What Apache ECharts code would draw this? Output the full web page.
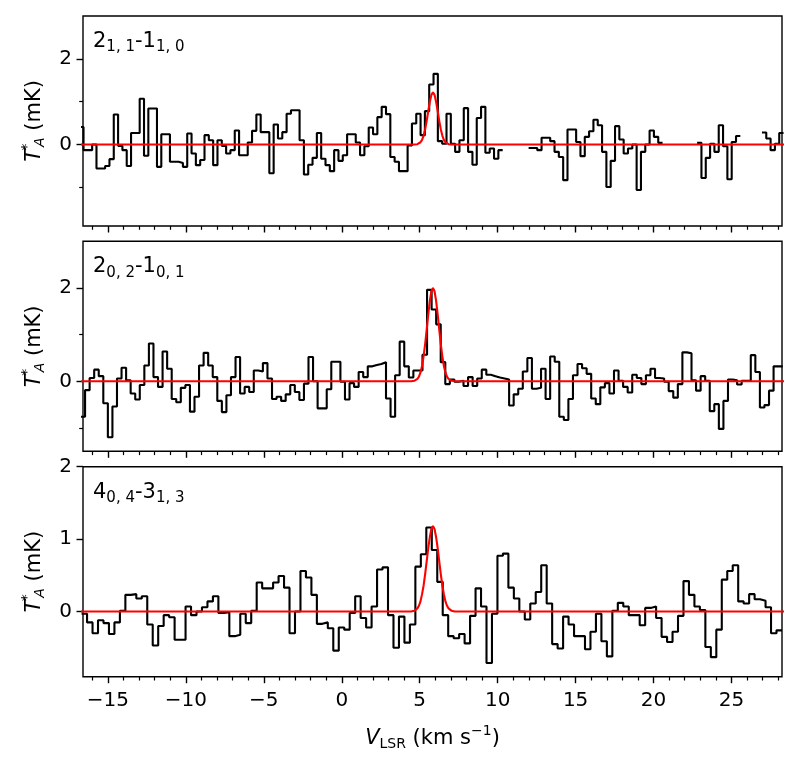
<!DOCTYPE html>
<html>
<head>
<meta charset="utf-8">
<script src="https://cdn.jsdelivr.net/npm/echarts@6/dist/echarts.min.js"></script>
<style>
html,body{margin:0;padding:0;background:#fff;}
#c{width:800px;height:763px;}
</style>
</head>
<body>
<div id="c"></div>
<script>
// ---------------- data ----------------
const xMajorTicks = [-15, -10, -5, 0, 5, 10, 15, 20, 25];
const xMinorTicks = [-16, -14, -13, -12, -11, -9, -8, -7, -6, -4, -3, -2, -1, 1, 2, 3, 4, 6, 7, 8, 9, 11, 12, 13, 14, 16, 17, 18, 19, 21, 22, 23, 24, 26, 27, 28];
const y1MajorTicks = [0, 2];
const y1MinorTicks = [-1, 1];
const y2MajorTicks = [0, 2];
const y2MinorTicks = [-1, 1];
const y3MajorTicks = [0, 1, 2];

// panel 1: 2(1,1)-1(1,0)  channel grid: first channel edge, channel width (km/s)
const spec1Start = -16.844;
const spec1Width = 0.2772;
const spec1T = [
  0.41, -0.13, -0.13, 0.0, -0.56, -0.56, -0.50, -0.34,
  0.70, -0.03, -0.13, -0.50, 0.27, 0.27, 1.07, -0.26, 0.84, 0.84,
  -0.52, 0.24, 0.24, -0.40, -0.40, -0.43, -0.52, 0.26, -0.21, -0.48,
  -0.36, 0.22, 0.10, -0.48, 0.10, -0.03, -0.21, -0.13, 0.33, -0.25,
  -0.25, 0.05, 0.32, 0.70, 0.29, 0.29, -0.67, 0.47, 0.14, 0.29,
  0.72, 0.80, 0.80, 0.10, -0.70, -0.47, -0.31, 0.27, -0.33, -0.48,
  -0.62, -0.13, -0.38, -0.25, 0.24, 0.24, 0.05, -0.25, -0.04, 0.40,
  0.24, 0.64, 0.88, 0.71, -0.29, -0.40, -0.62, -0.62, -0.02, 0.49,
  0.72, 0.22, 0.78, 1.40, 1.65, 0.08, 0.02, 0.72, 0.02, -0.17,
  0.10, 0.85, -0.17, -0.47, 0.62, 0.88, -0.19, -0.09, -0.33, -0.13,
  null, null, null, null, null, null, -0.08, -0.08, -0.13, 0.16,
  0.16, 0.08, -0.17, -0.29, -0.83, 0.35, 0.35, 0.06, -0.27, 0.18,
  0.31, 0.58, 0.45, -0.17, -0.99, -0.38, 0.43, 0.12, -0.21, -0.09,
  0.0, -1.06, -0.17, 0.0, 0.33, 0.18, 0.04, null, null, null,
  null, null, null, null, null, 0.04, -0.78, -0.31, 0.02, -0.17,
  0.45, -0.04, -0.81, 0.06, 0.20, null, null, null, null, null,
  0.28, 0.14, -0.13, 0.02, 0.27
];

// panel 2: 2(0,2)-1(0,1)
const spec2Start = -16.76;
const spec2Width = 0.2925;
const spec2T = [
  -0.76, -0.19, 0.07, 0.25, 0.11, -0.47, -1.20, -0.54, 0.06, 0.29,
  0.02, -0.26, -0.39, -0.08, 0.34, 0.81, 0.09, -0.12, 0.64, 0.27,
  -0.38, -0.45, -0.14, -0.08, -0.65, -0.33, 0.34, 0.61, 0.34, 0.09,
  -0.42, -0.66, -0.30, 0.09, 0.52, -0.26, -0.12, -0.23, 0.23, 0.21,
  0.39, 0.06, -0.38, -0.33, -0.42, -0.28, -0.08, -0.23, -0.40, -0.05,
  0.52, 0.0, -0.58, -0.58, -0.17, 0.42, 0.42, -0.01, -0.39, -0.04,
  -0.12, 0.20, 0.09, 0.32, 0.35, 0.37, 0.41, -0.37, -0.76, 0.13,
  0.85, 0.32, 0.08, 0.23, 0.23, 0.57, 1.96, 1.54, 1.22, 0.41,
  -0.06, 0.04, -0.01, 0.01, -0.10, 0.09, -0.10, 0.06, 0.25, 0.14,
  0.11, 0.08, 0.06, 0.04, -0.52, -0.28, -0.16, 0.21, 0.50, -0.16,
  -0.14, 0.27, -0.38, 0.53, 0.42, -0.76, -0.83, -0.38, 0.13, 0.37,
  0.28, 0.16, -0.37, -0.49, -0.13, -0.04, -0.26, 0.23, 0.01, -0.12,
  -0.24, 0.14, 0.07, -0.06, 0.13, 0.27, 0.07, 0.06, -0.01, -0.21,
  -0.35, -0.06, 0.62, 0.60, 0.02, -0.20, 0.11, 0.01, -0.64, -0.49,
  -1.02, -0.42, 0.04, 0.02, -0.07, 0.01, 0.01, 0.56, 0.20, -0.56,
  -0.51, -0.20, 0.32, 0.32
];

// panel 3: 4(0,4)-3(1,3)
const spec3Start = -16.69;
const spec3Width = 0.351;
const spec3T = [
  -0.03, -0.15, -0.30, -0.12, -0.16, -0.31, -0.15, 0.01, 0.23, 0.24,
  0.18, 0.21, -0.18, -0.47, -0.20, -0.05, -0.08, -0.39, -0.39, 0.07,
  -0.05, 0.0, 0.06, 0.14, 0.21, -0.02, -0.01, -0.34, -0.32, -0.03,
  -0.16, 0.01, 0.40, 0.32, 0.32, 0.40, 0.49, 0.33, -0.30, 0.0,
  0.56, 0.47, 0.23, -0.17, -0.15, -0.23, -0.54, -0.22, -0.25, -0.02,
  0.21, -0.09, -0.22, 0.07, 0.58, 0.61, -0.05, -0.50, -0.07, -0.43,
  -0.18, 0.62, 0.79, 1.16, 0.85, 0.41, -0.05, -0.34, -0.37, -0.31,
  -0.44, -0.06, 0.32, 0.07, -0.71, -0.03, 0.77, 0.80, 0.33, 0.18,
  0.0, -0.11, 0.11, 0.27, 0.64, 0.11, -0.45, -0.51, -0.07, -0.18,
  -0.34, -0.34, -0.52, -0.28, -0.03, -0.41, -0.62, 0.01, 0.12, 0.07,
  -0.05, -0.05, -0.19, 0.05, 0.07, -0.09, -0.35, -0.42, -0.28, -0.06,
  0.42, 0.23, 0.07, 0.02, -0.49, -0.63, -0.25, 0.44, 0.56, 0.64,
  0.14, 0.11, 0.24, 0.17, 0.15, 0.06, -0.30, -0.26
];

// red fitted profiles (velocity, T)
const fitV = [-16.9, 4.45, 4.65, 4.75, 4.85, 4.95, 5.05, 5.15, 5.25, 5.35, 5.45, 5.55, 5.65, 5.75, 5.85, 5.95, 6.05, 6.15, 6.25, 6.35, 6.45, 6.55, 6.65, 6.75, 6.85, 6.95, 7.05, 7.25, 28.4];
const fit1T = [0, 0, 0.001, 0.003, 0.009, 0.023, 0.054, 0.11, 0.21, 0.36, 0.56, 0.79, 1.00, 1.16, 1.22, 1.16, 1.00, 0.79, 0.56, 0.36, 0.21, 0.11, 0.054, 0.023, 0.009, 0.003, 0.001, 0, 0];
const fit2T = [0, 0, 0.01, 0.024, 0.05, 0.10, 0.19, 0.33, 0.54, 0.80, 1.12, 1.44, 1.73, 1.93, 2.0, 1.93, 1.73, 1.44, 1.12, 0.80, 0.54, 0.33, 0.19, 0.10, 0.05, 0.024, 0.01, 0, 0];
const fit3T = [0, 0, 0.01, 0.022, 0.044, 0.08, 0.14, 0.24, 0.36, 0.52, 0.70, 0.88, 1.03, 1.14, 1.18, 1.14, 1.03, 0.88, 0.70, 0.52, 0.36, 0.24, 0.14, 0.08, 0.044, 0.022, 0.01, 0, 0];

// transition labels: [main, sub, main, sub]
const label1 = ['2', '1, 1', '-1', '1, 0'];
const label2 = ['2', '0, 2', '-1', '0, 1'];
const label3 = ['4', '0, 4', '-3', '1, 3'];

// ---------------- helpers ----------------
function stepData(v0, w, vals) {
  const pts = [];
  for (let i = 0; i < vals.length; i++) {
    const y = vals[i];
    if (y === null) { pts.push([v0 + i * w, '-']); continue; }
    pts.push([v0 + i * w, y]);
    pts.push([v0 + (i + 1) * w, y]);
  }
  return pts;
}
function zip(a, b) { return a.map((v, i) => [v, b[i]]); }
function minus(v) { return (v < 0 ? '\u2212' : '') + Math.abs(v); }

const FONT = 'DejaVu Sans';
const X_MIN = -16.6, X_MAX = 28.24;
const GRID_LEFT = 83, GRID_W = 699, GRID_H = 210;
const tops = [16, 241.3, 466.7];
const yRanges = [[-1.9, 3], [-1.5, 3], [-0.9, 2]];
const yMajors = [y1MajorTicks, y2MajorTicks, y3MajorTicks];
const yMinors = [y1MinorTicks, y2MinorTicks, null];

const grids = [], xAxes = [], yAxes = [], series = [];
const specs = [[spec1Start, spec1Width, spec1T, fit1T], [spec2Start, spec2Width, spec2T, fit2T], [spec3Start, spec3Width, spec3T, fit3T]];

const yNameRich = {
  t: {fontFamily: FONT, fontStyle: 'italic', fontSize: 21, lineHeight: 24, color: '#000'},
  sup: {fontFamily: FONT, fontSize: 14, lineHeight: 14, padding: [0, 0, 14, 2], width: 0, color: '#000'},
  sub: {fontFamily: FONT, fontStyle: 'italic', fontSize: 14, lineHeight: 14, padding: [12, 0, 0, 0], color: '#000'},
  n: {fontFamily: FONT, fontSize: 21, lineHeight: 24, color: '#000'}
};

for (let p = 0; p < 3; p++) {
  grids.push({left: GRID_LEFT, top: tops[p], width: GRID_W, height: GRID_H, show: true,
    borderColor: '#000', borderWidth: 1.4, backgroundColor: 'rgba(0,0,0,0)'});
  const isBottom = p === 2;
  const xMajor = {
    gridIndex: p, type: 'value', min: X_MIN, max: X_MAX, position: 'bottom',
    axisLine: {show: false, onZero: false}, splitLine: {show: false},
    axisTick: {show: true, customValues: xMajorTicks, length: 6.5, lineStyle: {color: '#000', width: 1.4}},
    axisLabel: {show: isBottom, customValues: xMajorTicks, formatter: minus, fontSize: 20,
      fontFamily: FONT, color: '#000', margin: 14}
  };
  if (isBottom) {
    xMajor.name = '{v|V}{sub|LSR}{n| (km s}{sup|\u22121}{n|)}';
    xMajor.nameLocation = 'middle';
    xMajor.nameGap = 50;
    xMajor.nameTextStyle = {rich: {
      v: {fontFamily: FONT, fontStyle: 'italic', fontSize: 21, lineHeight: 24, color: '#000'},
      sub: {fontFamily: FONT, fontSize: 14, lineHeight: 14, padding: [12, 0, 0, 0], color: '#000'},
      sup: {fontFamily: FONT, fontSize: 14, lineHeight: 14, padding: [0, 0, 14, 0], color: '#000'},
      n: {fontFamily: FONT, fontSize: 21, lineHeight: 24, color: '#000'}
    }};
  }
  xAxes.push(xMajor);
  xAxes.push({
    gridIndex: p, type: 'value', min: X_MIN, max: X_MAX, position: 'bottom',
    axisLine: {show: false, onZero: false}, splitLine: {show: false},
    axisTick: {show: true, customValues: xMinorTicks, length: 3.8, lineStyle: {color: '#000', width: 1.2}},
    axisLabel: {show: false}
  });
  yAxes.push({
    gridIndex: p, type: 'value', min: yRanges[p][0], max: yRanges[p][1], position: 'left',
    axisLine: {show: false, onZero: false}, splitLine: {show: false},
    axisTick: {show: true, customValues: yMajors[p], length: 6.5, lineStyle: {color: '#000', width: 1.4}},
    axisLabel: {show: true, customValues: yMajors[p], formatter: minus, fontSize: 20, fontFamily: FONT, color: '#000', margin: 11},
    name: '{t|T}{sup|*}{sub|A}{n| (mK)}', nameLocation: 'middle', nameGap: 36, nameRotate: 90,
    nameTextStyle: {rich: yNameRich}
  });
  yAxes.push({
    gridIndex: p, type: 'value', min: yRanges[p][0], max: yRanges[p][1], position: 'left', offset: 0,
    axisLine: {show: false, onZero: false}, splitLine: {show: false},
    axisTick: {show: !!yMinors[p], customValues: yMinors[p] || [], length: 3.8, lineStyle: {color: '#000', width: 1.2}},
    axisLabel: {show: false}
  });
  const s = specs[p];
  series.push({
    type: 'line', xAxisIndex: 2 * p, yAxisIndex: 2 * p, data: stepData(s[0], s[1], s[2]),
    showSymbol: false, symbol: 'none', connectNulls: false, clip: true,
    lineStyle: {color: '#000', width: 2.1}, z: 2, animation: false
  });
  series.push({
    type: 'line', xAxisIndex: 2 * p, yAxisIndex: 2 * p, data: zip(fitV, s[3]),
    showSymbol: false, symbol: 'none', clip: true,
    lineStyle: {color: '#ff0000', width: 2.1}, z: 3, animation: false
  });
}

const labelRich = {
  n: {fontFamily: FONT, fontSize: 21, lineHeight: 24, fill: '#000'},
  s: {fontFamily: FONT, fontSize: 15, lineHeight: 15, padding: [12, 0, 0, 0], fill: '#000'}
};
function labelText(l) { return '{n|' + l[0] + '}{s|' + l[1] + '}{n|' + l[2] + '}{s|' + l[3] + '}'; }
const labels = [label1, label2, label3];
const graphic = labels.map((l, p) => ({
  type: 'text', left: 93, top: tops[p] + 12,
  style: {text: labelText(l), rich: labelRich, fill: '#000', font: '21px "DejaVu Sans"'}
}));

const chart = echarts.init(document.getElementById('c'), null, {renderer: 'canvas', width: 800, height: 763});
chart.setOption({
  animation: false,
  backgroundColor: '#fff',
  textStyle: {fontFamily: FONT, color: '#000'},
  grid: grids, xAxis: xAxes, yAxis: yAxes, series: series, graphic: graphic
});
</script>
</body>
</html>
